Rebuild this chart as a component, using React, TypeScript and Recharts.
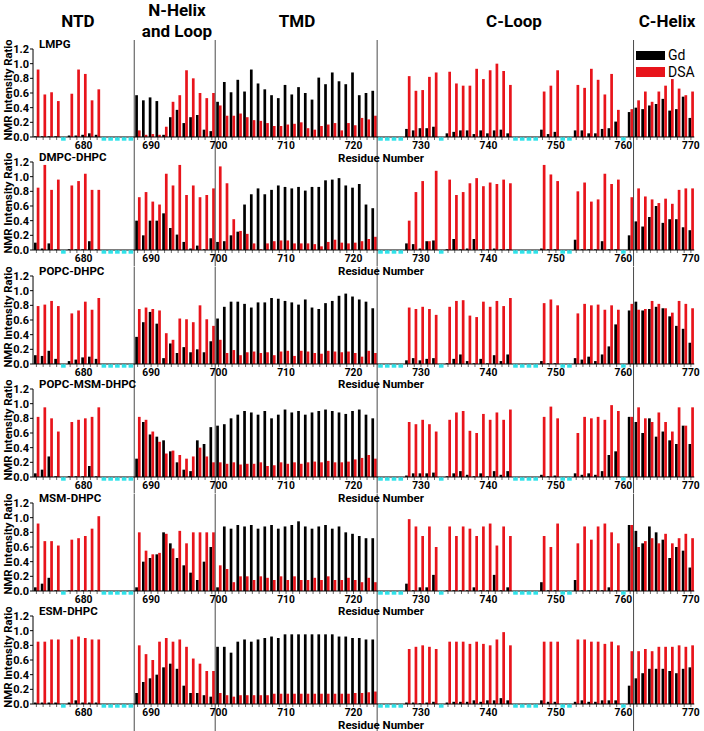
import React from 'react';
import { BarChart, Bar, XAxis, YAxis, ReferenceLine } from 'recharts';

// ---------- categories ----------
const residues = [
  673, 674, 675, 676, 677, 678, 679, 680, 681, 682, 683, 684, 685, 686, 687, 688, 689, 690,
  691, 692, 693, 694, 695, 696, 697, 698, 699, 700, 701, 702, 703, 704, 705, 706, 707, 708,
  709, 710, 711, 712, 713, 714, 715, 716, 717, 718, 719, 720, 721, 722, 723, 724, 725, 726,
  727, 728, 729, 730, 731, 732, 733, 734, 735, 736, 737, 738, 739, 740, 741, 742, 743, 744,
  745, 746, 747, 748, 749, 750, 751, 752, 753, 754, 755, 756, 757, 758, 759, 760, 761, 762,
  763, 764, 765, 766, 767, 768, 769, 770,
];
// residues without data (cyan marks)
const missingResidues = [677, 683, 684, 685, 686, 687, 724, 725, 726, 727, 733, 744, 745, 746, 747, 751, 752, 760];
const xTickLabels = [680, 690, 700, 710, 720, 730, 740, 750, 760, 770];
const yTicks = [0, 0.2, 0.4, 0.6, 0.8, 1.0, 1.2];
const regionStarts = [688, 700, 724, 762];
const regionTitles = [['NTD'], ['N-Helix', 'and Loop'], ['TMD'], ['C-Loop'], ['C-Helix']];
const panelNames = ['LMPG', 'DMPC-DHPC', 'POPC-DHPC', 'POPC-MSM-DHPC', 'MSM-DHPC', 'ESM-DHPC'];
const seriesNames = ['Gd', 'DSA'];

// ---------- values (ordered by assigned residues: 673-676, 678-682, 688-723, 728-732, 734-743, 748-750, 753-759, 761-770) ----------
const lmpgGd = [
  0.01, 0.01, 0.01, 0.01, 0.02, 0.02, 0.03, 0.05, 0.03,
  0.57, 0.50, 0.54, 0.49, 0.03, 0.27, 0.37, 0.19, 0.27, 0.30, 0.10, 0.08,
  0.48, 0.75, 0.61, 0.78, 0.62, 0.92, 0.73, 0.65, 0.57, 0.53, 0.71, 0.58, 0.68, 0.60, 0.51, 0.81, 0.72, 0.88, 0.76, 0.72, 0.88, 0.57, 0.60, 0.63,
  0.11, 0.09, 0.12, 0.12, 0.14,
  0.05, 0.07, 0.09, 0.09, 0.04, 0.09, 0.05, 0.09, 0.10, 0.05,
  0.10, 0.04, 0.07,
  0.09, 0.09, 0.05, 0.05, 0.11, 0.12, 0.21,
  0.34, 0.40, 0.38, 0.43, 0.45, 0.52, 0.36, 0.38, 0.55, 0.26,
];
const lmpgDsa = [
  0.92, 0.58, 0.61, 0.49, 0.59, 0.92, 0.86, 0.50, 0.65,
  0.09, 0.03, 0.04, 0.03, 0.14, 0.48, 0.57, 0.91, 0.80, 0.60, 0.53, 0.60,
  0.43, 0.29, 0.29, 0.32, 0.27, 0.23, 0.22, 0.19, 0.15, 0.15, 0.17, 0.18, 0.20, 0.12, 0.10, 0.15, 0.17, 0.19, 0.09, 0.19, 0.16, 0.26, 0.24, 0.29,
  0.83, 0.63, 0.64, 0.82, 0.88,
  0.89, 0.73, 0.70, 0.70, 0.93, 0.79, 0.91, 1.00, 0.90, 0.71,
  0.62, 0.70, 0.91,
  0.71, 0.67, 0.93, 0.78, 0.58, 0.86, 0.37,
  0.38, 0.50, 0.62, 0.48, 0.62, 0.70, 0.79, 0.66, 0.57, 0.62,
];
const dmpcGd = [
  0.10, 0.02, 0.09, 0.01, 0.01, 0.01, 0.01, 0.12, 0.01,
  0.40, 0.20, 0.40, 0.40, 0.50, 0.30, 0.21, 0.11, 0.02, 0.06, 0.01, 0.16,
  0.11, 0.12, 0.20, 0.25, 0.62, 0.76, 0.84, 0.76, 0.82, 0.88, 0.86, 0.84, 0.86, 0.81, 0.86, 0.86, 0.95, 0.96, 0.98, 0.88, 0.85, 0.90, 0.62, 0.57,
  0.09, 0.08, 0.02, 0.12, 0.13,
  0.01, 0.15, 0.01, 0.02, 0.15, 0.01, 0.01, 0.02, 0.01, 0.01,
  0.02, 0.01, 0.01,
  0.14, 0.01, 0.01, 0.01, 0.12, 0.01, 0.01,
  0.20, 0.39, 0.32, 0.45, 0.60, 0.37, 0.42, 0.42, 0.31, 0.27,
];
const dmpcDsa = [
  0.85, 1.16, 0.82, 0.96, 0.88, 0.94, 1.04, 0.82, 0.82,
  0.72, 0.79, 0.66, 0.62, 1.04, 0.88, 1.16, 0.75, 0.88, 0.72, 0.75, 0.84,
  1.14, 0.91, 0.42, 0.26, 0.22, 0.09, 0.01, 0.09, 0.12, 0.13, 0.13, 0.09, 0.09, 0.09, 0.08, 0.05, 0.11, 0.14, 0.10, 0.09, 0.10, 0.12, 0.15, 0.18,
  0.40, 0.79, 0.94, 0.12, 1.08,
  0.96, 0.75, 0.79, 0.91, 0.98, 0.87, 0.92, 0.90, 0.96, 0.91,
  1.16, 1.03, 0.94,
  0.80, 0.92, 0.66, 0.69, 1.04, 0.90, 0.96,
  0.72, 0.84, 0.73, 0.69, 0.64, 0.70, 0.63, 0.82, 0.84, 0.84,
];
const popcGd = [
  0.12, 0.11, 0.18, 0.07, 0.04, 0.06, 0.09, 0.10, 0.07,
  0.37, 0.57, 0.71, 0.55, 0.08, 0.28, 0.15, 0.23, 0.16, 0.20, 0.16, 0.31,
  0.62, 0.78, 0.85, 0.85, 0.82, 0.77, 0.84, 0.84, 0.90, 0.89, 0.86, 0.84, 0.81, 0.88, 0.77, 0.75, 0.83, 0.86, 0.93, 0.96, 0.92, 0.88, 0.85, 0.76,
  0.05, 0.08, 0.05, 0.07, 0.08,
  0.01, 0.07, 0.13, 0.04, 0.01, 0.07, 0.01, 0.12, 0.04, 0.13,
  0.04, 0.01, 0.01,
  0.08, 0.06, 0.10, 0.04, 0.13, 0.24, 0.54,
  0.73, 0.85, 0.73, 0.75, 0.78, 0.76, 0.65, 0.52, 0.48, 0.29,
];
const popcDsa = [
  0.79, 0.81, 0.86, 0.79, 0.69, 0.73, 0.85, 0.74, 0.90,
  0.75, 0.77, 0.75, 0.73, 0.42, 0.33, 0.62, 0.61, 0.57, 0.80, 0.61, 0.52,
  0.33, 0.15, 0.19, 0.12, 0.16, 0.17, 0.15, 0.16, 0.12, 0.17, 0.18, 0.11, 0.18, 0.17, 0.15, 0.14, 0.18, 0.17, 0.16, 0.17, 0.15, 0.10, 0.18, 0.15,
  0.77, 0.75, 0.78, 0.75, 0.67,
  0.78, 0.86, 0.87, 0.66, 0.64, 0.85, 0.78, 0.86, 0.79, 0.90,
  0.83, 0.88, 0.80,
  0.69, 0.82, 0.80, 0.81, 0.74, 0.80, 0.74,
  0.82, 0.74, 0.75, 0.86, 0.82, 0.76, 0.70, 0.86, 0.82, 0.76,
];
const popcMsmGd = [
  0.05, 0.10, 0.28, 0.01, 0.01, 0.01, 0.01, 0.15, 0.01,
  0.25, 0.75, 0.58, 0.55, 0.50, 0.35, 0.20, 0.10, 0.08, 0.50, 0.45, 0.68,
  0.70, 0.72, 0.80, 0.85, 0.90, 0.88, 0.85, 0.90, 0.80, 0.85, 0.92, 0.88, 0.90, 0.85, 0.88, 0.90, 0.92, 0.90, 0.88, 0.86, 0.90, 0.92, 0.85, 0.80,
  0.02, 0.05, 0.05, 0.05, 0.06,
  0.01, 0.05, 0.08, 0.03, 0.01, 0.05, 0.01, 0.08, 0.03, 0.08,
  0.03, 0.01, 0.02,
  0.05, 0.03, 0.05, 0.03, 0.08, 0.30, 0.35,
  0.82, 0.75, 0.60, 0.80, 0.55, 0.62, 0.50, 0.45, 0.70, 0.45,
];
const popcMsmDsa = [
  0.82, 0.95, 0.80, 0.62, 0.75, 0.78, 0.80, 0.82, 0.95,
  0.82, 0.78, 0.62, 0.48, 0.32, 0.36, 0.30, 0.25, 0.28, 0.40, 0.28, 0.20,
  0.20, 0.18, 0.20, 0.17, 0.18, 0.18, 0.20, 0.15, 0.16, 0.20, 0.18, 0.20, 0.18, 0.20, 0.21, 0.20, 0.22, 0.20, 0.20, 0.21, 0.24, 0.26, 0.30, 0.25,
  0.75, 0.72, 0.78, 0.72, 0.62,
  0.78, 0.88, 0.90, 0.63, 0.60, 0.86, 0.78, 0.88, 0.78, 0.92,
  0.82, 0.96, 0.80,
  0.60, 0.82, 0.80, 0.82, 0.78, 0.98, 0.90,
  0.82, 0.95, 0.80, 0.75, 0.88, 0.75, 0.62, 0.95, 0.70, 0.95,
];
const msmGd = [
  0.05, 0.10, 0.18, 0.01, 0.01, 0.01, 0.01, 0.01, 0.01,
  0.05, 0.40, 0.45, 0.50, 0.80, 0.65, 0.45, 0.35, 0.25, 0.15, 0.40, 0.60,
  0.05, 0.88, 0.85, 0.90, 0.88, 0.90, 0.85, 0.88, 0.90, 0.85, 0.88, 0.90, 0.95, 0.88, 0.85, 0.88, 0.90, 0.85, 0.88, 0.80, 0.78, 0.75, 0.72, 0.72,
  0.10, 0.01, 0.05, 0.05, 0.22,
  0.01, 0.01, 0.01, 0.01, 0.05, 0.01, 0.01, 0.22, 0.01, 0.05,
  0.12, 0.01, 0.01,
  0.15, 0.01, 0.01, 0.01, 0.01, 0.05, 0.01,
  0.90, 0.82, 0.65, 0.88, 0.80, 0.70, 0.45, 0.60, 0.55, 0.32,
];
const msmDsa = [
  0.92, 0.68, 0.68, 0.62, 0.70, 0.72, 0.75, 0.85, 1.02,
  0.80, 0.55, 0.50, 0.52, 0.78, 0.58, 0.82, 0.65, 0.80, 0.80, 0.80, 0.80,
  0.35, 0.30, 0.12, 0.20, 0.20, 0.15, 0.20, 0.18, 0.15, 0.20, 0.15, 0.20, 0.15, 0.15, 0.18, 0.15, 0.20, 0.15, 0.15, 0.18, 0.15, 0.12, 0.18, 0.12,
  0.98, 0.88, 0.75, 0.88, 0.60,
  0.88, 0.75, 0.88, 0.85, 0.75, 0.88, 0.92, 0.62, 0.88, 0.75,
  0.75, 0.60, 0.92,
  0.65, 0.88, 0.70, 0.88, 0.92, 0.80, 0.65,
  0.90, 0.60, 0.68, 0.72, 0.65, 0.78, 0.65, 0.72, 0.78, 0.72,
];
const esmGd = [
  0.02, 0.02, 0.02, 0.02, 0.02, 0.05, 0.02, 0.02, 0.02,
  0.15, 0.30, 0.35, 0.40, 0.50, 0.55, 0.48, 0.25, 0.15, 0.15, 0.12, 0.10,
  0.78, 0.78, 0.70, 0.85, 0.88, 0.85, 0.88, 0.90, 0.92, 0.90, 0.95, 0.95, 0.95, 0.95, 0.95, 0.95, 0.95, 0.95, 0.92, 0.92, 0.90, 0.90, 0.88, 0.88,
  0.02, 0.02, 0.01, 0.02, 0.03,
  0.02, 0.03, 0.03, 0.03, 0.05, 0.03, 0.05, 0.05, 0.08, 0.05,
  0.05, 0.03, 0.03,
  0.03, 0.05, 0.03, 0.03, 0.05, 0.05, 0.05,
  0.25, 0.35, 0.42, 0.48, 0.48, 0.48, 0.45, 0.42, 0.48, 0.50,
];
const esmDsa = [
  0.85, 0.85, 0.88, 0.88, 0.88, 0.92, 0.90, 0.88, 0.88,
  0.80, 0.68, 0.60, 0.85, 0.90, 0.85, 0.88, 0.78, 0.62, 0.55, 0.45, 0.45,
  0.15, 0.12, 0.10, 0.12, 0.12, 0.12, 0.12, 0.12, 0.14, 0.14, 0.14, 0.14, 0.14, 0.14, 0.14, 0.14, 0.14, 0.14, 0.14, 0.14, 0.15, 0.15, 0.16, 0.17,
  0.75, 0.78, 0.80, 0.78, 0.75,
  0.85, 0.85, 0.85, 0.82, 0.85, 0.82, 0.80, 0.88, 0.98, 0.80,
  0.85, 0.85, 0.85,
  0.88, 0.88, 0.85, 0.85, 0.82, 0.85, 0.80,
  0.72, 0.72, 0.75, 0.72, 0.78, 0.78, 0.78, 0.80, 0.78, 0.80,
];

const panelGd = [lmpgGd, dmpcGd, popcGd, popcMsmGd, msmGd, esmGd];
const panelDsa = [lmpgDsa, dmpcDsa, popcDsa, popcMsmDsa, msmDsa, esmDsa];

// ---------- layout ----------
const W = 704;
const H = 731;
const FONT = 'Roboto, "Open Sans", Arial, sans-serif';
const FIRST_TOP = 49;
const STEP = 113.4;
const PLOT_H = 88;
const M_TOP = 9;
const Y_AXIS_W = 33;
const M_RIGHT = 9.7;
const TICK_SIZE = 3;
const TICK_MARGIN = 1.4;
const COLORS = { gd: '#000000', dsa: '#e8141b', cyan: '#2fe3ea', divider: '#4a4a4a' };
const titleX = [78, 177, 297, 514, 667];

function buildRows(gd: number[], dsa: number[]) {
  const assigned = residues.filter((r) => !missingResidues.includes(r));
  return residues.map((r) => {
    const i = assigned.indexOf(r);
    return { res: r, gd: i >= 0 ? gd[i] : null, dsa: i >= 0 ? dsa[i] : null };
  });
}

const XTick = (props: any) => {
  const { x, y, payload } = props;
  const r = Number(payload.value);
  const axisY = y - TICK_SIZE - TICK_MARGIN;
  return (
    <g>
      {missingResidues.includes(r) && (
        <rect x={x - 2.3} y={axisY + 0.3} width={4.6} height={3.4} fill={COLORS.cyan} />
      )}
      {xTickLabels.includes(r) && (
        <text x={x} y={y} dy="0.71em" textAnchor="middle" fontFamily={FONT} fontWeight={700} fontSize={10.3} fill="#000">
          {r}
        </text>
      )}
    </g>
  );
};

const YLabel = (props: any) => {
  const vb = props.viewBox || {};
  const cx = 12;
  const cy = vb.y + vb.height / 2 - 3;
  return (
    <text
      x={cx}
      y={cy}
      transform={`rotate(-90, ${cx}, ${cy})`}
      textAnchor="middle"
      fontFamily={FONT}
      fontWeight={700}
      fontSize={11.3}
      fill="#000"
    >
      NMR Intensity Ratio
    </text>
  );
};

function Panel({ index }: { index: number }) {
  const top = FIRST_TOP + index * STEP - M_TOP;
  const height = index < 5 ? STEP : H - top;
  const xAxisH = height - M_TOP - PLOT_H;
  const rows = buildRows(panelGd[index], panelDsa[index]);
  const divider = (p: any) => (
    <line x1={p.x1} x2={p.x2} y1={0} y2={height} stroke={COLORS.divider} strokeWidth={1} />
  );
  return (
    <div style={{ position: 'absolute', left: 0, top, width: W, height }}>
      <BarChart
        width={W}
        height={height}
        data={rows}
        margin={{ top: M_TOP, right: M_RIGHT, bottom: 0, left: 0 }}
        barGap={0}
        barSize={2.7}
      >
        <XAxis
          dataKey="res"
          type="category"
          interval={0}
          height={xAxisH}
          tick={(p: any) => <XTick {...p} />}
          tickSize={TICK_SIZE}
          tickMargin={TICK_MARGIN}
          axisLine={{ stroke: '#000', strokeWidth: 1 }}
          tickLine={{ stroke: '#000', strokeWidth: 0.6 }}
        />
        <YAxis
          type="number"
          domain={[0, 1.2]}
          ticks={yTicks}
          interval={0}
          width={Y_AXIS_W}
          tickSize={3}
          tickMargin={1}
          tickFormatter={(v: number) => v.toFixed(1)}
          tick={{ fontFamily: FONT, fontWeight: 700, fontSize: 11, fill: '#000' }}
          axisLine={{ stroke: '#000', strokeWidth: 1 }}
          tickLine={{ stroke: '#000', strokeWidth: 1 }}
          label={<YLabel />}
        />
        <Bar dataKey="gd" name={seriesNames[0]} fill={COLORS.gd} isAnimationActive={false} />
        <Bar dataKey="dsa" name={seriesNames[1]} fill={COLORS.dsa} isAnimationActive={false} />
        {regionStarts.map((b) => (
          <ReferenceLine key={b} x={b} position="start" stroke={COLORS.divider} shape={divider} ifOverflow="visible" />
        ))}
      </BarChart>
    </div>
  );
}

export default function App() {
  return (
    <div style={{ position: 'absolute', left: 0, top: 0, width: W, height: H, background: '#fff', fontFamily: FONT, overflow: 'hidden' }}>
      {panelNames.map((_, i) => (
        <Panel key={i} index={i} />
      ))}
      {regionTitles.map((lines, i) => (
        <div
          key={i}
          style={{
            position: 'absolute',
            left: titleX[i] - 60,
            width: 120,
            top: lines.length > 1 ? 0 : 11,
            textAlign: 'center',
            fontWeight: 700,
            fontSize: 17,
            lineHeight: '21px',
            color: '#000',
          }}
        >
          {lines.map((l) => (
            <div key={l}>{l}</div>
          ))}
        </div>
      ))}
      {panelNames.map((n, i) => (
        <div
          key={n}
          style={{
            position: 'absolute',
            left: 39,
            top: FIRST_TOP + i * STEP - 12,
            fontWeight: 700,
            fontSize: 11.5,
            lineHeight: '14px',
            color: '#000',
          }}
        >
          {n}
        </div>
      ))}
      {panelNames.map((n, i) => (
        <div
          key={'rn' + n}
          style={{
            position: 'absolute',
            left: 381 - 60,
            width: 120,
            top: FIRST_TOP + i * STEP + PLOT_H + 15.6,
            textAlign: 'center',
            fontWeight: 700,
            fontSize: 11.5,
            lineHeight: '10px',
            color: '#000',
          }}
        >
          Residue Number
        </div>
      ))}
      <div style={{ position: 'absolute', left: 636, top: 47, fontSize: 14, lineHeight: '16px', color: '#000' }}>
        {seriesNames.map((s, i) => (
          <div key={s} style={{ display: 'flex', alignItems: 'center', height: 16.5 }}>
            <div style={{ width: 29, height: 9.5, background: i === 0 ? COLORS.gd : COLORS.dsa, marginRight: 3 }} />
            <span>{s}</span>
          </div>
        ))}
      </div>
    </div>
  );
}
